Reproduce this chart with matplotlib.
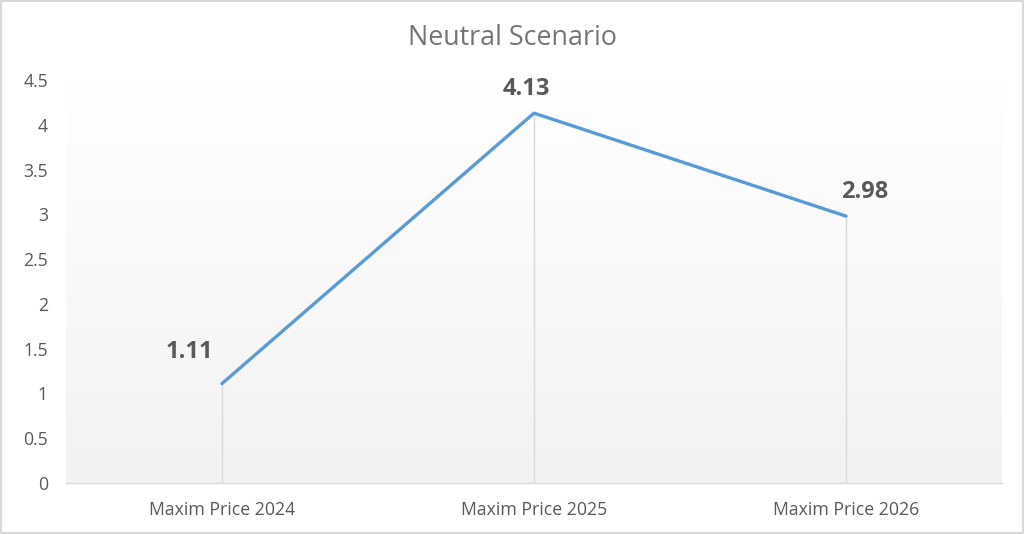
import numpy as np
import matplotlib.pyplot as plt
from matplotlib.patches import Rectangle

categories = ['Maxim Price 2024', 'Maxim Price 2025', 'Maxim Price 2026']
prices = [1.11, 4.13, 2.98]
label_offsets = [(-33, 32), (-8, 24), (19, 24)]  # pixels, label centre vs point

plt.rcParams['font.family'] = ['Open Sans', 'DejaVu Sans']

fig = plt.figure(figsize=(10.24, 5.34), dpi=100)
ax = fig.add_axes([66 / 1024, 1 - 483 / 534, 936 / 1024, 403 / 534])

x = np.arange(len(categories))
ax.set_xlim(-0.5, len(categories) - 0.5)
ax.set_ylim(0, 4.5)

# gradient plot area: white at top, light grey at bottom
grad = np.linspace(1.0, 0.949, 256).reshape(-1, 1)
ax.imshow(np.dstack([grad, grad, grad]), extent=[-0.5, 2.5, 0, 4.5],
          aspect='auto', origin='upper', zorder=0)

# drop lines
ax.vlines(x, 0, prices, color='#d9d9d9', lw=1, zorder=1)
ax.plot(x, prices, color='#5b9bd5', lw=2.4, solid_capstyle='round', zorder=3)

for xi, v, (dx, dy) in zip(x, prices, label_offsets):
    ax.annotate(f'{v:.2f}', (xi, v), xytext=(dx, dy), textcoords='offset pixels',
                ha='center', va='center', fontsize=17, fontweight='bold',
                color='#595959')

ax.set_xticks(x)
ax.set_xticklabels(categories)
ax.set_yticks(np.arange(0, 4.51, 0.5))
ax.set_yticklabels([f'{t:g}' for t in np.arange(0, 4.51, 0.5)])
ax.tick_params(length=0, labelsize=12.7, colors='#595959')
ax.tick_params(axis='x', pad=13)
ax.tick_params(axis='y', pad=13)
for s in ['top', 'right', 'left']:
    ax.spines[s].set_visible(False)
ax.spines['bottom'].set_color('#d9d9d9')
ax.spines['bottom'].set_linewidth(1)

fig.text(0.5, 1 - 38 / 534, 'Neutral Scenario', ha='center', va='center',
         fontsize=19.4, color='#757575')

fig.patches.append(Rectangle((0.001, 0.002), 0.998, 0.996, transform=fig.transFigure,
                             fill=False, edgecolor='#d9d9d9', lw=1.5))

fig.savefig('out.png', dpi=100)
